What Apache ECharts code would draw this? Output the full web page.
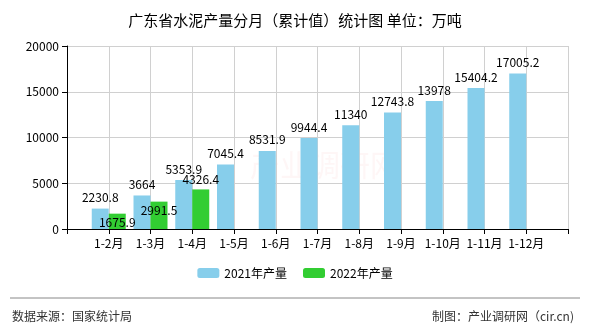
<!DOCTYPE html>
<html><head><meta charset="utf-8">
<script src="https://cdn.jsdelivr.net/npm/echarts@6/dist/echarts.min.js"></script>
<style>html,body{margin:0;padding:0;background:#fff}#c{width:590px;height:330px}</style>
</head><body><div id="c"></div>
<script>
var categories = ['1-2月','1-3月','1-4月','1-5月','1-6月','1-7月','1-8月','1-9月','1-10月','1-11月','1-12月'];
var values2021 = [2230.8, 3664, 5353.9, 7045.4, 8531.9, 9944.4, 11340, 12743.8, 13978, 15404.2, 17005.2];
var values2022 = [1675.9, 2991.5, 4326.4];
var yTicks = [0, 5000, 10000, 15000, 20000];
var seriesNames = ['2021年产量', '2022年产量'];

var FONT = '"Noto Sans CJK SC", sans-serif';
var cats = [''].concat(categories).concat(['']);
var d21 = [null].concat(values2021).concat([null]);
var d22 = [null];
for (var i = 0; i < categories.length + 1; i++) d22.push(i < values2022.length ? values2022[i] : null);
var d22items = d22.map(function (v, i) {
  if (v == null) return null;
  var above = (i === 3);
  return { value: v, label: { position: above ? 'top' : 'insideTop', distance: above ? 4 : 3 } };
});

var chart = echarts.init(document.getElementById('c'));
chart.setOption({
  animation: false,
  textStyle: { fontFamily: FONT },
  title: {
    text: '广东省水泥产量分月（累计值）统计图 单位：万吨',
    left: 'center', top: 8,
    textStyle: { fontSize: 15, fontWeight: 'normal', color: '#000', fontFamily: FONT }
  },
  legend: {
    bottom: 46, left: 'center',
    itemWidth: 22, itemHeight: 10, itemGap: 16,
    textStyle: { fontSize: 12, color: '#000', fontFamily: FONT },
    data: seriesNames
  },
  grid: { left: 67, right: 22, top: 46, bottom: 101, containLabel: false },
  xAxis: {
    type: 'category', data: cats, boundaryGap: false,
    axisLine: { lineStyle: { color: '#000', width: 1 } },
    axisTick: { show: true, length: 5, lineStyle: { color: '#000' } },
    axisLabel: { interval: 0, color: '#000', fontSize: 12, margin: 8, fontFamily: FONT },
    splitLine: { show: true, lineStyle: { color: '#d0d0d0' } }
  },
  yAxis: {
    type: 'value', min: yTicks[0], max: yTicks[yTicks.length - 1], interval: yTicks[1] - yTicks[0],
    axisLine: { show: true, lineStyle: { color: '#000' } },
    axisTick: { show: true, length: 5, lineStyle: { color: '#000' } },
    axisLabel: { color: '#000', fontSize: 12, margin: 8, fontFamily: FONT, formatter: function (v) { return String(v); } },
    splitLine: { show: true, lineStyle: { color: '#d0d0d0' } }
  },
  graphic: [
    { type: 'line', shape: { x1: 10, y1: 298, x2: 580, y2: 298 }, style: { stroke: '#888', lineWidth: 1 } },
    { type: 'text', left: 12, top: 310, style: { text: '数据来源：国家统计局', fontSize: 12, fill: '#333', fontFamily: FONT } },
    { type: 'text', right: 16, top: 310, style: { text: '制图：产业调研网（cir.cn)', fontSize: 12, fill: '#333', fontFamily: FONT } },
    { type: 'text', left: 250, top: 150, silent: true, z: -1, style: { text: '产业调研网', fontSize: 30, fill: 'rgba(230,80,80,0.05)', fontFamily: FONT } }
  ],
  series: [
    {
      name: seriesNames[0], type: 'bar', data: d21, barWidth: 17, barGap: '0%',
      itemStyle: { color: '#87CEEB' },
      label: { show: true, position: 'top', distance: 5, color: '#000', fontSize: 12, fontFamily: FONT }
    },
    {
      name: seriesNames[1], type: 'bar', data: d22items, barWidth: 17, barGap: '0%',
      itemStyle: { color: '#32CD32' },
      label: { show: true, color: '#000', fontSize: 12, fontFamily: FONT }
    }
  ]
});
</script></body></html>
